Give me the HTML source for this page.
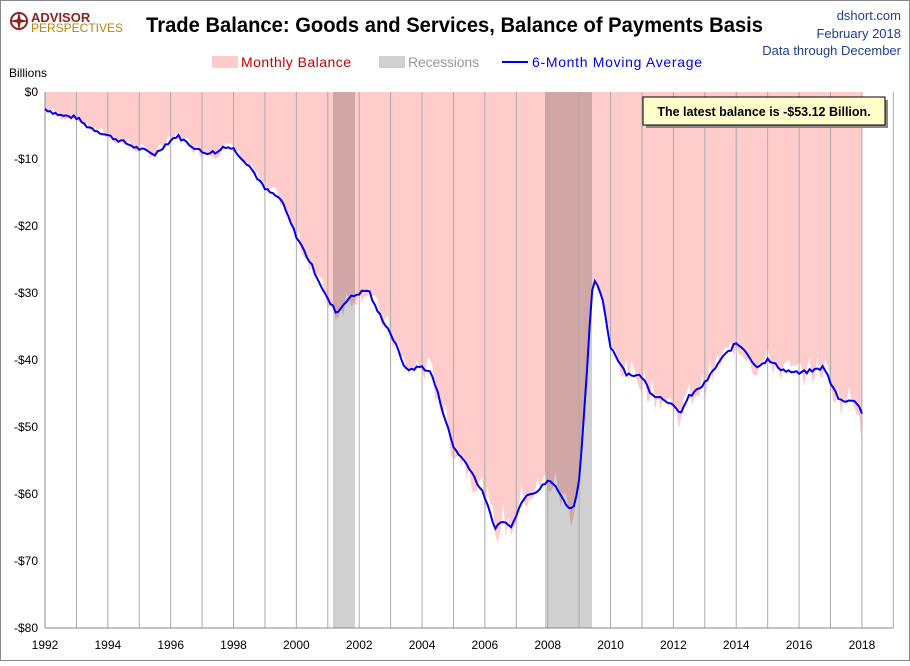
<!DOCTYPE html>
<html><head><meta charset="utf-8"><style>
body{margin:0;background:#fff;}
svg text{font-family:"Liberation Sans",sans-serif;}
</style></head><body>
<svg id="s" width="910" height="661" xmlns="http://www.w3.org/2000/svg">
<rect x="0.5" y="0.5" width="909" height="660" fill="#fff" stroke="#888"/>
<path id="bal" fill="#ffcccc" stroke="none"/>
<rect x="333" y="92" width="22" height="536" fill="#d0d0d0" style="mix-blend-mode:multiply"/>
<rect x="545" y="92" width="47" height="536" fill="#d0d0d0" style="mix-blend-mode:multiply"/>
<g id="vg"></g>
<line x1="45" y1="628" x2="893" y2="628" stroke="#888"/>
<line x1="45" y1="92" x2="45" y2="628" stroke="#888"/>
<path id="ma" fill="none" stroke="#0000ee" stroke-width="2"/>
<g id="lab" font-size="12" fill="#000"></g>
<!-- logo -->
<circle cx="19" cy="21" r="8" fill="none" stroke="#8b2323" stroke-width="2"/>
<path d="M19 11 L21 21 L19 31 L17 21Z M9 21 L19 19 L29 21 L19 23Z" fill="#8b2323"/>
<text x="31" y="22" font-size="13" font-weight="bold" fill="#8b2323">ADVISOR</text>
<text x="31" y="32" font-size="12" fill="#b8860b">PERSPECTIVES</text>
<text x="146" y="32" font-size="21" font-weight="bold" fill="#000" textLength="617" lengthAdjust="spacingAndGlyphs">Trade Balance: Goods and Services, Balance of Payments Basis</text>
<text x="901" y="20" font-size="13" fill="#1f3f8f" text-anchor="end">dshort.com</text>
<text x="901" y="38" font-size="13" fill="#1f3f8f" text-anchor="end">February 2018</text>
<text x="901" y="55" font-size="13" fill="#1f3f8f" text-anchor="end">Data through December</text>
<rect x="212" y="56" width="26" height="12" fill="#ffcccc"/>
<text x="241" y="67" font-size="14" fill="#c00000" textLength="110">Monthly Balance</text>
<rect x="379" y="56" width="26" height="12" fill="#d0d0d0"/>
<text x="408" y="67" font-size="14" fill="#999" textLength="71">Recessions</text>
<line x1="502" y1="62" x2="528" y2="62" stroke="#0000ee" stroke-width="2"/>
<text x="532" y="67" font-size="14" fill="#0000ee" textLength="170">6-Month Moving Average</text>
<text x="9" y="77" font-size="12">Billions</text>
<rect x="646" y="100" width="242" height="28" fill="#888"/>
<rect x="643" y="97" width="242" height="28" fill="#ffffcc" stroke="#000"/>
<text x="764" y="116" font-size="12.5" font-weight="bold" text-anchor="middle">The latest balance is -$53.12 Billion.</text>
</svg>
<script>
const X=y=>45+(y-1992)*31.42, Y=v=>92+(-v)*6.7;
let vg='',lab='';
for(let v=0;v>=-80;v-=10){
lab+=`<text x="38" y="${Y(v)+4}" text-anchor="end">${v==0?'$0':'-$'+(-v)}</text>`;}
for(let y=1992;y<=2019;y++){vg+=`<line x1="${X(y)}" x2="${X(y)}" y1="92" y2="628" stroke="#aaa" stroke-width="1"/>`;
if(y%2==0)lab+=`<text x="${X(y)}" y="649" text-anchor="middle">${y}</text>`;}
document.getElementById('vg').innerHTML=vg;document.getElementById('lab').innerHTML=lab;
const P=[[1992.0,-2.5],[1992.5,-3.5],[1993,-3.8],[1993.3,-5],[1994,-6.5],[1995,-8.5],[1995.5,-9.3],[1995.8,-8],[1996.2,-6.5],[1996.5,-7.5],[1997,-9],[1997.5,-9],[1997.7,-8],[1998,-8.5],[1998.5,-11],[1999,-14.5],[1999.5,-16],[2000,-21.5],[2000.5,-26],[2001,-31],[2001.3,-33],[2001.6,-31],[2002,-30],[2002.3,-29.5],[2002.5,-32],[2003,-36],[2003.5,-41.5],[2004,-41],[2004.3,-42],[2004.5,-45],[2005,-53],[2005.5,-56],[2006,-60.5],[2006.3,-65],[2006.6,-64],[2006.8,-65],[2007,-63],[2007.3,-60],[2007.7,-59.5],[2008,-58],[2008.3,-59],[2008.5,-61],[2008.8,-62.5],[2009,-58],[2009.2,-45],[2009.4,-30],[2009.5,-28.5],[2009.7,-30],[2010,-38],[2010.5,-42],[2011,-42.5],[2011.3,-45],[2011.8,-46],[2012.2,-48],[2012.5,-45.5],[2013,-43.5],[2013.5,-40],[2014,-37.5],[2014.3,-38.5],[2014.6,-41],[2015,-40],[2015.5,-41.5],[2016,-42],[2016.5,-41.5],[2016.8,-41],[2017,-43.5],[2017.3,-46],[2017.6,-46],[2017.9,-46.5],[2018,-48]];
function f(t){for(let i=0;i<P.length-1;i++){if(t<=P[i+1][0]){const a=P[i],b=P[i+1];return a[1]+(b[1]-a[1])*(t-a[0])/(b[0]-a[0]);}}return P[P.length-1][1];}
let ma='',bal=`M${X(1992)} ${Y(0)}`;let seed=7;const rnd=()=>{seed=(seed*9301+49297)%233280;return seed/233280;};
for(let m=0;m<=312;m++){const t=1992+m/12;const v=f(t);const w=v+(rnd()-0.5)*0.6;ma+=(m?'L':'M')+X(t).toFixed(1)+' '+Y(m==312?-48:w).toFixed(1);
let b=v+(rnd()-0.5)*(Math.abs(v)*0.08+1.2);if(m==312)b=-53.1;bal+=`L${X(t).toFixed(1)} ${Y(Math.min(0,b)).toFixed(1)}`;}
bal+=`L${X(2018)} ${Y(0)}Z`;
document.getElementById('ma').setAttribute('d',ma);document.getElementById('bal').setAttribute('d',bal);
</script>
</body></html>
